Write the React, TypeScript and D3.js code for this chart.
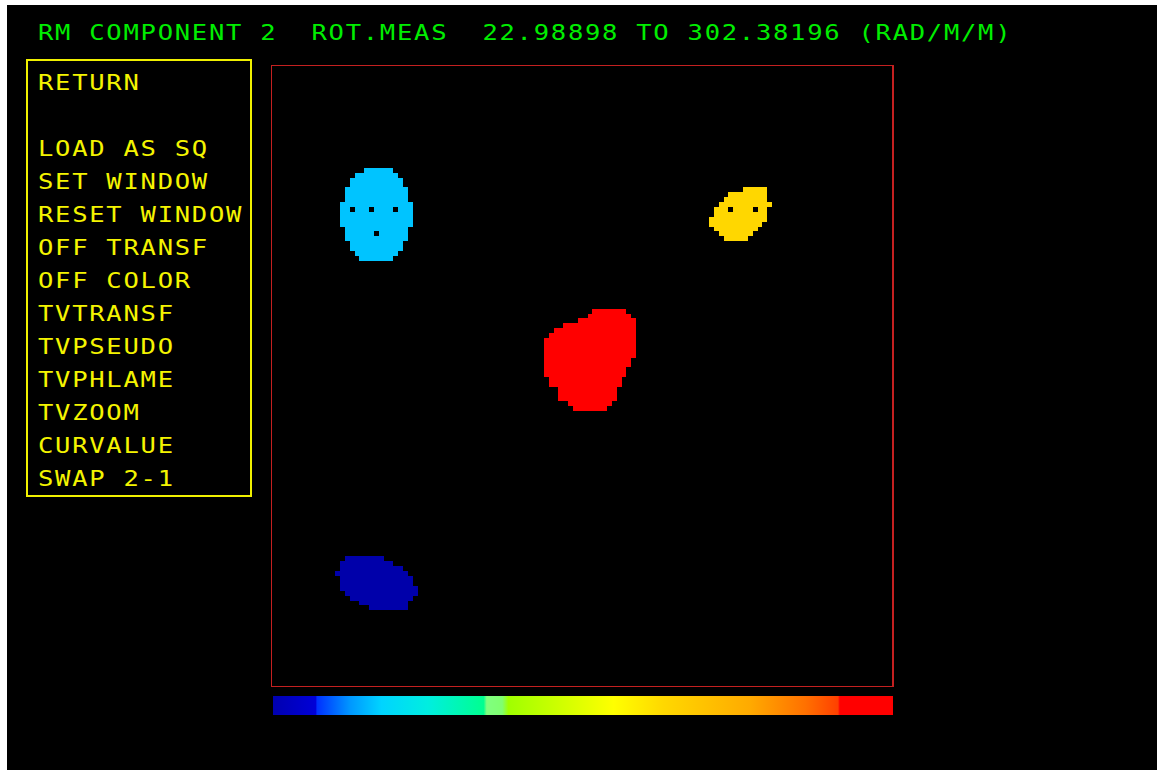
import React from "react";
import * as d3 from "d3";

// ---- data ----
const headerText = "RM COMPONENT 2  ROT.MEAS  22.98898 TO 302.38196 (RAD/M/M)";
const menuItems = [
  "RETURN",
  "",
  "LOAD AS SQ",
  "SET WINDOW",
  "RESET WINDOW",
  "OFF TRANSF",
  "OFF COLOR",
  "TVTRANSF",
  "TVPSEUDO",
  "TVPHLAME",
  "TVZOOM",
  "CURVALUE",
  "SWAP 2-1",
];
const GRID = 128;

// blobs: [row, colStart, colEnd(exclusive)]
const cyanSpans: [number, number, number][] = [
  [21, 19, 25], [22, 17, 26], [23, 16, 27], [24, 16, 27],
  [25, 15, 28], [26, 15, 28], [27, 15, 28],
  [28, 14, 29], [29, 14, 29], [30, 14, 29], [31, 14, 29], [32, 14, 29],
  [33, 15, 28], [34, 15, 28], [35, 15, 28],
  [36, 16, 27], [37, 16, 27], [38, 17, 26], [39, 18, 25],
];
const cyanHoles: [number, number][] = [[29, 16], [29, 20], [29, 25], [34, 21]];

const yellowSpans: [number, number, number][] = [
  [25, 97, 102], [26, 94, 102], [27, 93, 102], [28, 92, 103],
  [29, 91, 102], [30, 91, 102], [31, 90, 102], [32, 90, 101],
  [33, 91, 100], [34, 92, 99], [35, 93, 98],
];
const yellowHoles: [number, number][] = [[29, 94], [29, 99]];

const redSpans: [number, number, number][] = [
  [50, 66, 73], [51, 65, 74], [52, 63, 75], [53, 60, 75], [54, 58, 75],
  [55, 57, 75], [56, 56, 75], [57, 56, 75], [58, 56, 75], [59, 56, 75],
  [60, 56, 74], [61, 56, 74], [62, 56, 73], [63, 56, 73],
  [64, 57, 72], [65, 57, 72], [66, 59, 71], [67, 59, 71], [68, 59, 71],
  [69, 61, 70], [70, 62, 69],
];

const blueSpans: [number, number, number][] = [
  [101, 15, 23], [102, 14, 25], [103, 14, 27], [104, 13, 28],
  [105, 14, 29], [106, 14, 29], [107, 14, 30], [108, 15, 30],
  [109, 16, 29], [110, 18, 28], [111, 20, 28],
];

const blobs = [
  { spans: cyanSpans, holes: cyanHoles, color: "#00c4ff" },
  { spans: yellowSpans, holes: yellowHoles, color: "#ffd700" },
  { spans: redSpans, holes: [] as [number, number][], color: "#ff0000" },
  { spans: blueSpans, holes: [] as [number, number][], color: "#0000aa" },
];

const barStops: [number, string][] = [
  [0, "#0000b0"], [0.069, "#0000d8"], [0.071, "#0030ff"],
  [0.125, "#0098ff"], [0.175, "#00d4ff"], [0.25, "#00eee0"],
  [0.34, "#00ff90"], [0.345, "#80ff80"], [0.37, "#80ff70"],
  [0.38, "#a0ff00"], [0.48, "#d8ff00"], [0.55, "#ffff00"],
  [0.63, "#ffd800"], [0.77, "#ffaa00"], [0.86, "#ff7000"],
  [0.912, "#ff4000"], [0.915, "#ff0000"], [1, "#ff0000"],
];

export default function App() {
  const W = 1157, H = 770;
  const x = d3.scaleLinear().domain([0, GRID]).range([272, 893.5]);
  const y = d3.scaleLinear().domain([0, GRID]).range([66, 687.5]);
  const cell = x(1) - x(0);
  const font = "'DejaVu Sans Mono', 'Liberation Mono', monospace";
  const fs = 22;
  const sx = 1.16;
  const ls = 17.1 / sx - fs * 0.602;

  return (
    <svg
      width={W}
      height={H}
      style={{ position: "absolute", left: 0, top: 0 }}
      shapeRendering="crispEdges"
    >
      <defs>
        <linearGradient id="cbar" x1="0" x2="1" y1="0" y2="0">
          {barStops.map(([o, c], i) => (
            <stop key={i} offset={o} stopColor={c} />
          ))}
        </linearGradient>
      </defs>
      <rect x={0} y={0} width={W} height={H} fill="#ffffff" />
      <rect x={7} y={5} width={W - 7} height={H - 5} fill="#000000" />

      <text
        transform={`translate(38,40) scale(${sx},1)`}
        fill="#00ee00"
        fontFamily={font}
        fontSize={fs}
        letterSpacing={ls}
        xmlSpace="preserve"
      >
        {headerText}
      </text>

      <rect x={27} y={60} width={224} height={436} fill="none" stroke="#f0f000" strokeWidth={2} />
      {menuItems.map((m, i) => (
        <text
          key={i}
          transform={`translate(38,${90 + i * 33}) scale(${sx},1)`}
          fill="#f4f400"
          fontFamily={font}
          fontSize={fs}
          letterSpacing={ls}
          xmlSpace="preserve"
        >
          {m}
        </text>
      ))}

      <rect x={271.5} y={65.5} width={621.5} height={621} fill="none" stroke="#c42020" strokeWidth={1.3} />

      {blobs.map((b, bi) => (
        <g key={bi}>
          {b.spans.map(([r, c0, c1], i) => (
            <rect
              key={i}
              x={x(c0)}
              y={y(r)}
              width={x(c1) - x(c0)}
              height={cell + 0.4}
              fill={b.color}
            />
          ))}
          {b.holes.map(([r, c], i) => (
            <rect key={"h" + i} x={x(c)} y={y(r)} width={cell} height={cell} fill="#000" />
          ))}
        </g>
      ))}

      <rect x={273} y={696} width={619.5} height={19} fill="url(#cbar)" />
    </svg>
  );
}
